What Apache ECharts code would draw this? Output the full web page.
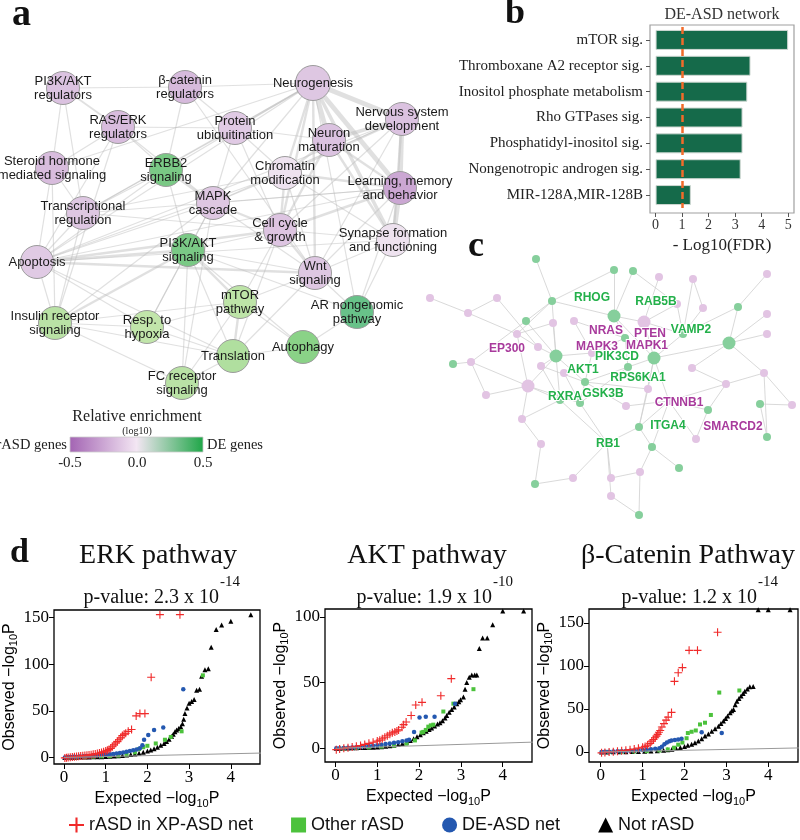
<!DOCTYPE html>
<html><head><meta charset="utf-8">
<script src="https://cdn.jsdelivr.net/npm/echarts@6/dist/echarts.min.js"></script>
<style>html,body{margin:0;padding:0;background:#fff}#c{width:800px;height:840px}</style>
</head><body><div id="c"></div>
<script>
// ---------------- Panel a: pathway network ----------------
const aNames = ['PI3K/AKT\nregulators','β-catenin\nregulators','Neurogenesis','Nervous system\ndevelopment','RAS/ERK\nregulators',
 'Protein\nubiquitination','Neuron\nmaturation','Steroid hormone\nmediated signaling','ERBB2\nsignaling','Chromatin\nmodification',
 'Learning, memory\nand behavior','Transcriptional\nregulation','MAPK\ncascade','Cell cycle\n& growth','Synapse formation\nand functioning',
 'PI3K/AKT\nsignaling','Apoptosis','Wnt\nsignaling','mTOR\npathway','AR nongenomic\npathway',
 'Insulin receptor\nsignaling','Resp. to\nhypoxia','Translation','Autophagy','FC receptor\nsignaling'];
const aEnrich = [-0.15,-0.18,-0.13,-0.15,-0.17,-0.12,-0.15,-0.17,0.3,-0.03,-0.25,-0.13,-0.13,-0.14,-0.03,0.3,-0.12,-0.13,0.13,0.38,0.14,0.12,0.16,0.25,0.14];
// layout (pixel) coordinates of the nodes
const aX = [63,185,313,402,118,235,329,52,166,285,400,83,213,280,393,188,37,315,240,357,55,147,233,303,182];
const aY = [88,87,83,119,127,128,140,168,170,173,188,213,203,230,240,250,262,273,302,312,323,327,356,347,383];
const aLinks = [[2,3,4],[2,6,4],[2,10,4],[2,14,3],[2,9,2],[2,13,2],[2,17,2],[2,5,1.5],[2,1,1],[2,12,1],[2,16,1],[2,11,1],[2,19,1],[2,8,1],[2,7,1],
 [3,10,4],[3,6,3],[3,14,2],[3,9,2],[3,13,1],[3,17,1],[3,12,1],[3,16,1],
 [10,14,4],[10,6,2],[10,9,2],[10,13,2],[10,12,1],[10,17,1],[10,11,1],[10,16,1],
 [0,1,1],[0,4,1.5],[0,7,1],[0,11,1],[4,5,1],[4,12,1],[4,8,1],[4,16,1],[4,20,1],
 [16,15,2],[16,17,2],[16,13,2],[16,12,1],[16,20,1],[16,21,1],[16,11,1],[16,7,1],[16,8,1],[16,14,1],[16,9,1],[16,22,1],
 [13,17,2],[13,12,2],[13,9,2],[13,15,1],[13,22,1],[13,18,1],[13,11,1],[13,5,1],[13,6,2],[13,14,1],
 [12,8,2],[12,15,1],[12,5,1],[12,9,1],[12,21,1],[12,20,1],[12,24,1],[12,17,1],
 [15,18,2],[15,20,2],[15,21,1],[15,22,1],[15,24,1],[15,8,1],[15,17,1],[15,23,1],[15,19,1],
 [18,22,2],[18,23,1],[18,21,1],[18,24,1],[18,20,1],[18,17,1],[22,24,1],[22,23,1],[22,21,1],[22,20,1],[22,17,1],
 [19,23,1],[19,17,1],[19,14,1],[19,10,1],[20,21,1],[20,24,1],[20,11,1],[20,7,1],[11,7,1],[11,8,1],[11,9,1],[11,5,1],
 [17,14,1],[17,1,1],[17,9,1],[6,9,2],[6,5,1],[5,1,1],[5,9,1],[1,8,1],[7,4,1],[9,14,1],[6,14,2]];
const legendTicks = ['-0.5','0.0','0.5'];

// ---------------- Panel b: bar chart ----------------
const bCats = ['mTOR sig.','Thromboxane A2 receptor sig.','Inositol phosphate metabolism','Rho GTPases sig.','Phosphatidyl-inositol sig.','Nongenotropic androgen sig.','MIR-128A,MIR-128B'];
const bVals = [5.0,3.58,3.46,3.28,3.28,3.21,1.33];
const bThreshold = 1;
const bTicks = [0,1,2,3,4,5];

// ---------------- Panel c: gene network ----------------
const cType = ['g','g','g','p','p','p','p','p','g','p','g','p','p','g','p','p','p','g','p','p','g','g','p','g','p','g','g','p','g','p',
 'p','g','p','g','p','p','p','p','p','p','g','g','p','p','g','g','p','p','g','p','g','p','g','p','g','p','p','p','g','p','g'];
const cBig = [13,14,20,25,26,36];
const cX = [536,614,633,659,693,767,430,497,552,468,526,553,574,614,644,703,677,738,767,767,729,683,517,625,538,556,654,592,453,471,
 541,628,564,585,692,764,528,486,648,726,580,560,626,669,708,760,792,522,639,696,767,541,652,607,679,640,573,611,535,611,639];
const cY = [259,270,271,277,279,274,298,298,301,313,321,323,321,316,322,308,304,307,314,334,343,334,334,338,347,356,358,353,364,362,
 366,367,373,382,368,373,386,395,389,384,403,400,406,401,410,404,405,419,427,439,437,444,447,443,468,472,478,478,484,496,515];
const cLinks = [[0,8],[8,10],[8,13],[8,22],[8,25],[6,9],[9,22],[7,24],[10,29],[10,25],[11,25],[12,27],[1,13],[2,16],[2,13],[3,14],[4,15],[4,21],
 [5,17],[13,14],[13,23],[13,26],[14,21],[14,26],[16,21],[15,21],[17,20],[17,21],[18,20],[19,20],[20,34],[20,35],[20,26],[21,26],[22,36],
 [22,24],[24,25],[25,27],[25,30],[25,36],[25,33],[25,41],[23,27],[23,31],[26,31],[26,38],[26,43],[26,48],[27,33],[28,29],[29,37],[29,36],
 [30,33],[31,33],[31,40],[32,40],[33,40],[33,42],[33,38],[36,41],[36,47],[36,37],[36,40],[34,39],[35,39],[35,46],[39,44],[39,43],[43,44],
 [43,49],[43,52],[43,48],[44,49],[45,46],[45,50],[35,50],[40,53],[41,53],[42,43],[47,51],[51,58],[58,56],[56,53],[53,57],[53,59],[53,48],
 [48,52],[52,54],[52,55],[55,60],[59,60],[55,57],[41,47],[38,48],[30,41],[7,9],[11,22],[12,23],[1,8],[16,14]];
const cLabelNode = [13,16,23,14,21,22,27,26,31,33,38,41,40,43,48,49,53];
const cLabelText = ['RHOG','RAB5B','NRAS','PTEN','VAMP2','EP300','MAPK3','MAPK1','PIK3CD','AKT1','RPS6KA1','RXRA','GSK3B','CTNNB1','ITGA4','SMARCD2','RB1'];
const cLabelKind = ['g','g','p','p','g','p','p','p','g','g','g','g','g','p','g','p','g'];
const cLabelOffset = [[-22,-18],[-21,-2],[-19,-7],[6,12],[8,-4],[-10,15],[5,-6],[-7,-12],[-11,-10],[-2,-12],[-10,-11],[5,-3],[23,-9],[10,2],[29,-1],[37,-12],[1,1]];

// ---------------- Panel d: QQ plots ----------------
const dTitles = ['ERK pathway','AKT pathway','β-Catenin Pathway'];
const dPMant = ['p-value: 2.3 x 10','p-value: 1.9 x 10','p-value: 1.2 x 10'];
const dPExp = ['-14','-10','-14'];
const dYTicks = [[0,50,100,150],[0,50,100],[0,50,100,150]];
const dXTicks = [0,1,2,3,4];
const seriesNames = ['rASD in XP-ASD net','Other rASD','DE-ASD net','Not rASD'];

const erkRed = [[0.02,-0.5],[0.06,-0.3],[0.1,0],[0.15,0.2],[0.2,0.5],[0.25,0.7],[0.3,1],[0.35,1.2],[0.4,1.5],[0.45,1.8],[0.5,2],[0.55,2.3],[0.6,2.6],[0.65,3],[0.7,3.4],[0.75,3.8],[0.8,4.3],[0.85,4.8],[0.9,5.4],[0.95,6],[1.0,6.8],[1.04,7.6],[1.08,8.5],[1.12,9.8],[1.16,11.5],[1.2,13.5],[1.24,15.5],[1.28,17],[1.32,19],[1.36,21],[1.4,23.5],[1.44,25],[1.48,26],[1.54,28],[1.62,30],[1.73,44.5],[1.82,47],[1.94,47],[2.09,86],[2.30,153],[2.78,153]];
const erkGreen = [[0.1,0],[0.3,0.3],[0.5,0.6],[0.7,0.9],[0.9,1.2],[1.1,1.5],[1.3,2],[1.5,3],[1.7,5.5],[1.8,9],[1.9,11],[2.0,12.5],[2.2,15],[2.42,19],[2.56,22],[2.82,28],[3.33,88]];
const erkBlue = [[0.02,0],[0.08,0.3],[0.15,0.5],[0.22,0.7],[0.3,0.9],[0.38,1.1],[0.46,1.3],[0.54,1.5],[0.62,1.7],[0.7,2],[0.78,2.2],[0.86,2.5],[0.94,2.8],[1.02,3.1],[1.1,3.4],[1.18,3.8],[1.26,4.2],[1.34,4.8],[1.42,5.4],[1.5,6],[1.58,6.8],[1.66,7.6],[1.74,8.6],[1.82,10],[1.88,13],[1.92,19],[2.02,24],[2.16,29.5],[2.38,32],[2.86,73]];
const erkBlack = [[0.02,0],[0.1,0.1],[0.2,0.2],[0.3,0.3],[0.4,0.4],[0.5,0.5],[0.6,0.6],[0.7,0.7],[0.8,0.8],[0.9,0.9],[1.0,1],[1.1,1.2],[1.2,1.5],[1.3,1.8],[1.4,2.2],[1.5,2.6],[1.6,3.1],[1.7,3.8],[1.8,4.6],[1.9,5.6],[2.0,6.8],[2.08,8],[2.16,9.4],[2.24,11],[2.32,13],[2.4,15],[2.46,17],[2.52,19.5],[2.58,22.5],[2.62,25],[2.66,27.5],[2.7,29.5],[2.75,31],[2.8,33],[2.84,36],[2.87,41],[2.9,47],[2.95,53],[3.0,58],[3.06,60],[3.12,62],[3.18,72],[3.25,73],[3.3,87],[3.38,94],[3.46,95],[3.53,118],[3.65,137],[3.78,142],[4.0,146],[4.48,153]];

const aktRed = [[0.02,-1],[0.1,-0.5],[0.2,0],[0.3,0.5],[0.4,1],[0.5,1.6],[0.6,2.2],[0.7,3],[0.8,3.8],[0.9,4.6],[1.0,5.5],[1.06,6.2],[1.12,7.3],[1.18,8.4],[1.24,9.6],[1.3,10.8],[1.36,11.8],[1.42,12.5],[1.47,13.2],[1.51,14],[1.59,16],[1.63,18],[1.69,20],[1.81,25],[1.92,33],[2.07,35],[2.52,40],[2.77,53]];
const aktGreen = [[0.2,0],[0.5,0.4],[0.8,0.8],[1.1,1.3],[1.4,2],[1.7,3.5],[1.9,6],[2.06,12],[2.1,12.5],[2.16,14],[2.22,16.5],[2.28,17.5],[2.34,18],[2.58,28],[2.82,34],[3.3,45]];
const aktBlue = [[0.02,0],[0.1,0.1],[0.2,0.3],[0.3,0.5],[0.4,0.7],[0.5,0.9],[0.6,1.1],[0.7,1.4],[0.8,1.7],[0.9,2],[1.0,2.4],[1.1,2.8],[1.2,3.2],[1.3,3.7],[1.4,4.2],[1.5,4.7],[1.6,5.3],[1.7,6],[1.76,6.5],[1.88,12.5],[2.01,23.5],[2.16,24],[2.37,24],[2.86,34]];
const aktBlack = [[0.02,0],[0.1,0.1],[0.2,0.2],[0.3,0.3],[0.4,0.4],[0.5,0.5],[0.6,0.6],[0.7,0.7],[0.8,0.8],[0.9,0.9],[1.0,1],[1.1,1.2],[1.2,1.5],[1.3,1.9],[1.4,2.4],[1.5,3],[1.6,3.7],[1.7,4.8],[1.79,6],[1.87,7.3],[1.95,8.8],[2.03,10.3],[2.1,11.8],[2.17,13],[2.24,14.3],[2.3,15.5],[2.37,17],[2.44,18.5],[2.5,19.5],[2.56,21],[2.62,23],[2.66,25],[2.72,27.5],[2.78,29.5],[2.84,31.5],[2.9,34],[2.95,35.5],[2.99,37],[3.06,39],[3.1,45],[3.14,50],[3.2,54],[3.26,55.7],[3.33,55.7],[3.38,55.7],[3.44,76],[3.52,84],[3.63,84],[3.76,94],[4.0,104.5],[4.5,104.5]];

const catRed = [[0.02,-1],[0.1,-0.5],[0.2,0],[0.3,0.4],[0.4,0.9],[0.5,1.5],[0.6,2],[0.7,2.7],[0.8,3.5],[0.9,4.5],[1.0,5.5],[1.06,6.5],[1.12,8],[1.18,10],[1.22,12.7],[1.26,14.5],[1.3,16.6],[1.33,18.5],[1.36,20.5],[1.39,23],[1.42,25],[1.46,29],[1.51,33],[1.56,37],[1.61,40.5],[1.69,46],[1.76,82],[1.85,92],[1.95,98],[2.11,118],[2.31,118],[2.79,139]];
const catGreen = [[0.2,0],[0.5,0.3],[0.8,0.6],[1.1,1],[1.4,1.8],[1.6,3],[1.75,5],[1.85,8.5],[1.95,11],[2.05,16],[2.08,22],[2.17,23.5],[2.27,25],[2.37,32],[2.49,34],[2.63,43],[2.83,69],[3.31,71.4]];
const catBlue = [[0.02,0],[0.1,0.2],[0.2,0.4],[0.3,0.6],[0.4,0.8],[0.5,1],[0.6,1.2],[0.7,1.5],[0.8,1.8],[0.9,2.1],[1.0,2.4],[1.1,2.8],[1.2,3.2],[1.3,3.8],[1.4,4.5],[1.46,6],[1.52,9],[1.58,11],[1.64,12.5],[1.69,13.5],[1.77,14],[1.85,14.5],[1.93,15.4],[2.41,23],[2.89,22]];
const catBlack = [[0.02,0],[0.15,0.1],[0.3,0.2],[0.45,0.3],[0.6,0.4],[0.75,0.5],[0.9,0.7],[1.05,0.9],[1.2,1.2],[1.35,1.6],[1.5,2],[1.6,2.6],[1.7,3.3],[1.8,4],[1.9,5.2],[2.0,6.5],[2.08,7.7],[2.17,9],[2.25,10.8],[2.33,12.7],[2.41,15.5],[2.49,18.5],[2.57,21],[2.65,24],[2.73,27],[2.81,30],[2.87,33],[2.93,36],[2.98,39],[3.03,41.7],[3.09,45.6],[3.13,48],[3.17,49.4],[3.21,55],[3.25,59],[3.3,62],[3.35,65],[3.4,68],[3.44,70.6],[3.5,73],[3.56,75.7],[3.64,76],[3.76,165],[4.0,165],[4.52,165]];
const refLine = [[0,0],[4.8,4.8]];

// ------------------------------------------------------------
const SERIF = "'Liberation Serif','Times New Roman',serif";
const SANS = "'Liberation Sans',Arial,Helvetica,sans-serif";
const COL = {red:'#f02a2a', green:'#4cc23c', blue:'#2458b0', black:'#000000'};

function lerp(stops, v){
  if (v <= stops[0][0]) return stops[0][1];
  for (let i=1;i<stops.length;i++){
    if (v <= stops[i][0]){
      const t=(v-stops[i-1][0])/(stops[i][0]-stops[i-1][0]);
      const a=stops[i-1][1], b=stops[i][1];
      return a.map((c,k)=>Math.round(c+(b[k]-c)*t));
    }
  }
  return stops[stops.length-1][1];
}
const enrichStops = [[-0.5,[163,100,179]],[0,[243,234,243]],[0.005,[238,244,234]],[0.12,[193,229,170]],[0.25,[138,210,135]],[0.3,[122,201,133]],[0.4,[100,192,138]],[0.5,[33,164,70]]];
function enrichColor(v){ const c=lerp(enrichStops,v); return 'rgb('+c.join(',')+')'; }

const aData = aNames.map((n,i)=>({name:n, value:[aX[i],aY[i]], symbolSize: i===2?35:33,
  itemStyle:{color:enrichColor(aEnrich[i]), borderColor:'#9c9c9c', borderWidth:1}}));
const aEdges = aLinks.map(l=>({source:l[0], target:l[1], lineStyle:{width:l[2]*1.2}}));

const cData = cX.map((x,i)=>{
  const li = cLabelNode.indexOf(i);
  const item = {name:'c'+i, value:[x,cY[i]], symbolSize: cBig.indexOf(i)>=0?13:8,
    itemStyle:{color: cType[i]==='g' ? '#86cf9c' : '#e2c4e3'}};
  if (li>=0) item.label = {show:true, formatter: cLabelText[li], offset: cLabelOffset[li],
    color: cLabelKind[li]==='g' ? '#23b04a' : '#a83a9c'};
  return item;
});
const cEdges = cLinks.map(l=>({source:l[0], target:l[1]}));

// grids for panel d
const dGrids = [
  {left:54, top:610, width:206, height:154, xr:[-0.24,4.7], yr:[-7,158], yGap:24},
  {left:325, top:609, width:207, height:153, xr:[-0.25,4.7], yr:[-10.4,106], yGap:27},
  {left:589, top:609, width:209, height:153, xr:[-0.28,4.71], yr:[-11.6,166], yGap:25}
];
const dData = [[erkRed,erkGreen,erkBlue,erkBlack],[aktRed,aktGreen,aktBlue,aktBlack],[catRed,catGreen,catBlue,catBlack]];
const plusPath = 'path://M4.3,0L5.7,0L5.7,4.3L10,4.3L10,5.7L5.7,5.7L5.7,10L4.3,10L4.3,5.7L0,5.7L0,4.3L4.3,4.3Z';

const grids = [
  {left:0, top:0, width:800, height:840, show:false},           // 0 canvas for networks
  {left:650, top:27, width:144, height:181, show:false},        // 1 bar data
  {left:650, top:25, width:144, height:188, show:true, borderColor:'#a0a0a0', borderWidth:1.2, backgroundColor:'transparent'}, // 2 bar box
];
dGrids.forEach(g=>grids.push({left:g.left, top:g.top, width:g.width, height:g.height, show:true, borderColor:'#000', borderWidth:1.3, backgroundColor:'transparent'}));

const xAxes = [
  {gridIndex:0, type:'value', min:0, max:800, show:false},
  {gridIndex:1, type:'value', min:-0.21, max:5.22, offset:5,
    axisLine:{show:false, onZero:false}, splitLine:{show:false},
    axisTick:{show:true, length:4, customValues:bTicks, lineStyle:{color:'#555'}},
    axisLabel:{customValues:bTicks, fontFamily:SERIF, fontSize:14, color:'#333', margin:5},
    name:'- Log10(FDR)', nameLocation:'middle', nameGap:24, nameTextStyle:{fontFamily:SERIF, fontSize:17, color:'#222'}},
  {gridIndex:2, type:'value', min:0, max:1, show:false}
];
const yAxes = [
  {gridIndex:0, type:'value', min:0, max:840, inverse:true, show:false},
  {gridIndex:1, type:'category', data:bCats, inverse:true,
    axisLine:{show:false, onZero:false}, axisTick:{show:true, alignWithLabel:true, length:4, lineStyle:{color:'#555'}},
    axisLabel:{fontFamily:SERIF, fontSize:15, color:'#222', margin:7}},
  {gridIndex:2, type:'value', min:0, max:1, show:false}
];
dGrids.forEach((g,i)=>{
  xAxes.push({gridIndex:3+i, type:'value', min:g.xr[0], max:g.xr[1],
    axisLine:{show:false, onZero:false}, splitLine:{show:false},
    axisTick:{show:true, length:5, customValues:dXTicks, lineStyle:{color:'#000'}},
    axisLabel:{customValues:dXTicks, fontFamily:SERIF, fontSize:17, color:'#000', margin:5},
    name:'{n|Expected −log}{s|10}{n|P}', nameLocation:'middle', nameGap:24,
    nameTextStyle:{rich:{n:{fontFamily:SANS, fontSize:16, color:'#000'}, s:{fontFamily:SANS, fontSize:11, color:'#000', padding:[10,0,0,0]}}}});
  yAxes.push({gridIndex:3+i, type:'value', min:g.yr[0], max:g.yr[1],
    axisLine:{show:false, onZero:false}, splitLine:{show:false},
    axisTick:{show:true, length:5, customValues:dYTicks[i], lineStyle:{color:'#000'}},
    axisLabel:{customValues:dYTicks[i], fontFamily:SERIF, fontSize:17, color:'#000', margin:5},
    name:'{n|Observed −log}{s|10}{n|P}', nameLocation:'middle', nameGap:g.yGap,
    nameTextStyle:{rich:{n:{fontFamily:SANS, fontSize:16, color:'#000'}, s:{fontFamily:SANS, fontSize:11, color:'#000', padding:[10,0,0,0]}}}});
});

const series = [
  {type:'graph', coordinateSystem:'cartesian2d', xAxisIndex:0, yAxisIndex:0, layout:'none', silent:true, z:2,
    data:aData, links:aEdges, symbol:'circle',
    label:{show:true, position:'inside', color:'#1a1a1a', fontSize:13, fontFamily:SANS, lineHeight:14},
    lineStyle:{color:'#bbbbbb', opacity:0.45, width:1},
    emphasis:{disabled:true}},
  {type:'graph', coordinateSystem:'cartesian2d', xAxisIndex:0, yAxisIndex:0, layout:'none', silent:true, z:2,
    data:cData, links:cEdges, symbol:'circle',
    label:{show:false, position:'inside', fontSize:12, fontWeight:'bold', fontFamily:SANS, textBorderColor:'#fff', textBorderWidth:2},
    lineStyle:{color:'#cfcfcf', opacity:0.8, width:1},
    emphasis:{disabled:true}},
  {type:'bar', xAxisIndex:1, yAxisIndex:1, data:bVals, barWidth:20, silent:true,
    itemStyle:{color:'#156a4a', borderColor:'#cfd8d3', borderWidth:1},
    markLine:{silent:true, symbol:'none', label:{show:false},
      lineStyle:{color:'#f26b2a', type:[7,4], width:2.5}, data:[{xAxis:bThreshold}]}}
];
const symbols = [plusPath,'rect','circle','triangle'];
const sizes = [8,4,4.5,5];
const colors = [COL.red,COL.green,COL.blue,COL.black];
dData.forEach((sets,i)=>{
  series.push({type:'line', xAxisIndex:3+i, yAxisIndex:3+i, data:refLine, symbol:'none', silent:true,
    lineStyle:{color:'#9a9a9a', width:1}, clip:true});
  [3,1,2,0].forEach(k=>{
    series.push({type:'scatter', name:seriesNames[k], xAxisIndex:3+i, yAxisIndex:3+i, data:sets[k],
      symbol:symbols[k], symbolSize:sizes[k], itemStyle:{color:colors[k], opacity:1}, silent:true, clip:true});
  });
});

const graphic = [
  {type:'text', x:12, y:34, style:{text:'a', font:'bold 38px '+SERIF, fill:'#111', textVerticalAlign:'bottom'}},
  {type:'text', x:505, y:32, style:{text:'b', font:'bold 36px '+SERIF, fill:'#111', textVerticalAlign:'bottom'}},
  {type:'text', x:468, y:265, style:{text:'c', font:'bold 36px '+SERIF, fill:'#111', textVerticalAlign:'bottom'}},
  {type:'text', x:10, y:570, style:{text:'d', font:'bold 34px '+SERIF, fill:'#111', textVerticalAlign:'bottom'}},
  {type:'text', x:722, y:15, style:{text:'DE-ASD network', font:'16px '+SERIF, fill:'#333', textAlign:'center', textVerticalAlign:'middle'}},
  // colour legend of panel a
  {type:'text', x:137, y:417, style:{text:'Relative enrichment', font:'16px '+SERIF, fill:'#222', textAlign:'center', textVerticalAlign:'middle'}},
  {type:'text', x:137, y:431, style:{text:'(log10)', font:'10px '+SERIF, fill:'#222', textAlign:'center', textVerticalAlign:'middle'}},
  {type:'rect', shape:{x:70, y:437, width:133, height:15}, style:{stroke:'#ccc', lineWidth:0.8,
    fill:new echarts.graphic.LinearGradient(0,0,1,0,[{offset:0,color:'#a364b3'},{offset:0.5,color:'#f3e6f3'},{offset:1,color:'#1ea647'}])}},
  {type:'text', x:67, y:445, style:{text:'rASD genes', font:'14.5px '+SERIF, fill:'#222', textAlign:'right', textVerticalAlign:'middle'}},
  {type:'text', x:207, y:445, style:{text:'DE genes', font:'14.5px '+SERIF, fill:'#222', textAlign:'left', textVerticalAlign:'middle'}}
];
[70,137,203].forEach((x,i)=>graphic.push({type:'text', x:x, y:463, style:{text:legendTicks[i], font:'15px '+SERIF, fill:'#222', textAlign:'center', textVerticalAlign:'middle'}}));
const titleX = [158,427,688];
const pEndX = [219,492,757];
dTitles.forEach((t,i)=>{
  graphic.push({type:'text', x:titleX[i], y:556, style:{text:t, font:'28px '+SERIF, fill:'#111', textAlign:'center', textVerticalAlign:'middle'}});
  graphic.push({type:'text', x:pEndX[i], y:598, style:{text:dPMant[i], font:'20px '+SERIF, fill:'#111', textAlign:'right', textVerticalAlign:'middle'}});
  graphic.push({type:'text', x:pEndX[i]+1, y:582, style:{text:dPExp[i], font:'15px '+SERIF, fill:'#111', textAlign:'left', textVerticalAlign:'middle'}});
});

const option = {
  animation:false,
  backgroundColor:'#fff',
  grid:grids, xAxis:xAxes, yAxis:yAxes, series:series, graphic:graphic,
  legend:{left:64, top:811, itemGap:38, itemWidth:15, itemHeight:15, selectedMode:false,
    textStyle:{fontFamily:SANS, fontSize:18, color:'#111'},
    data:[{name:seriesNames[0], icon:plusPath},{name:seriesNames[1], icon:'rect'},{name:seriesNames[2], icon:'circle'},{name:seriesNames[3], icon:'triangle'}]}
};
const chart = echarts.init(document.getElementById('c'));
chart.setOption(option);
</script></body></html>
